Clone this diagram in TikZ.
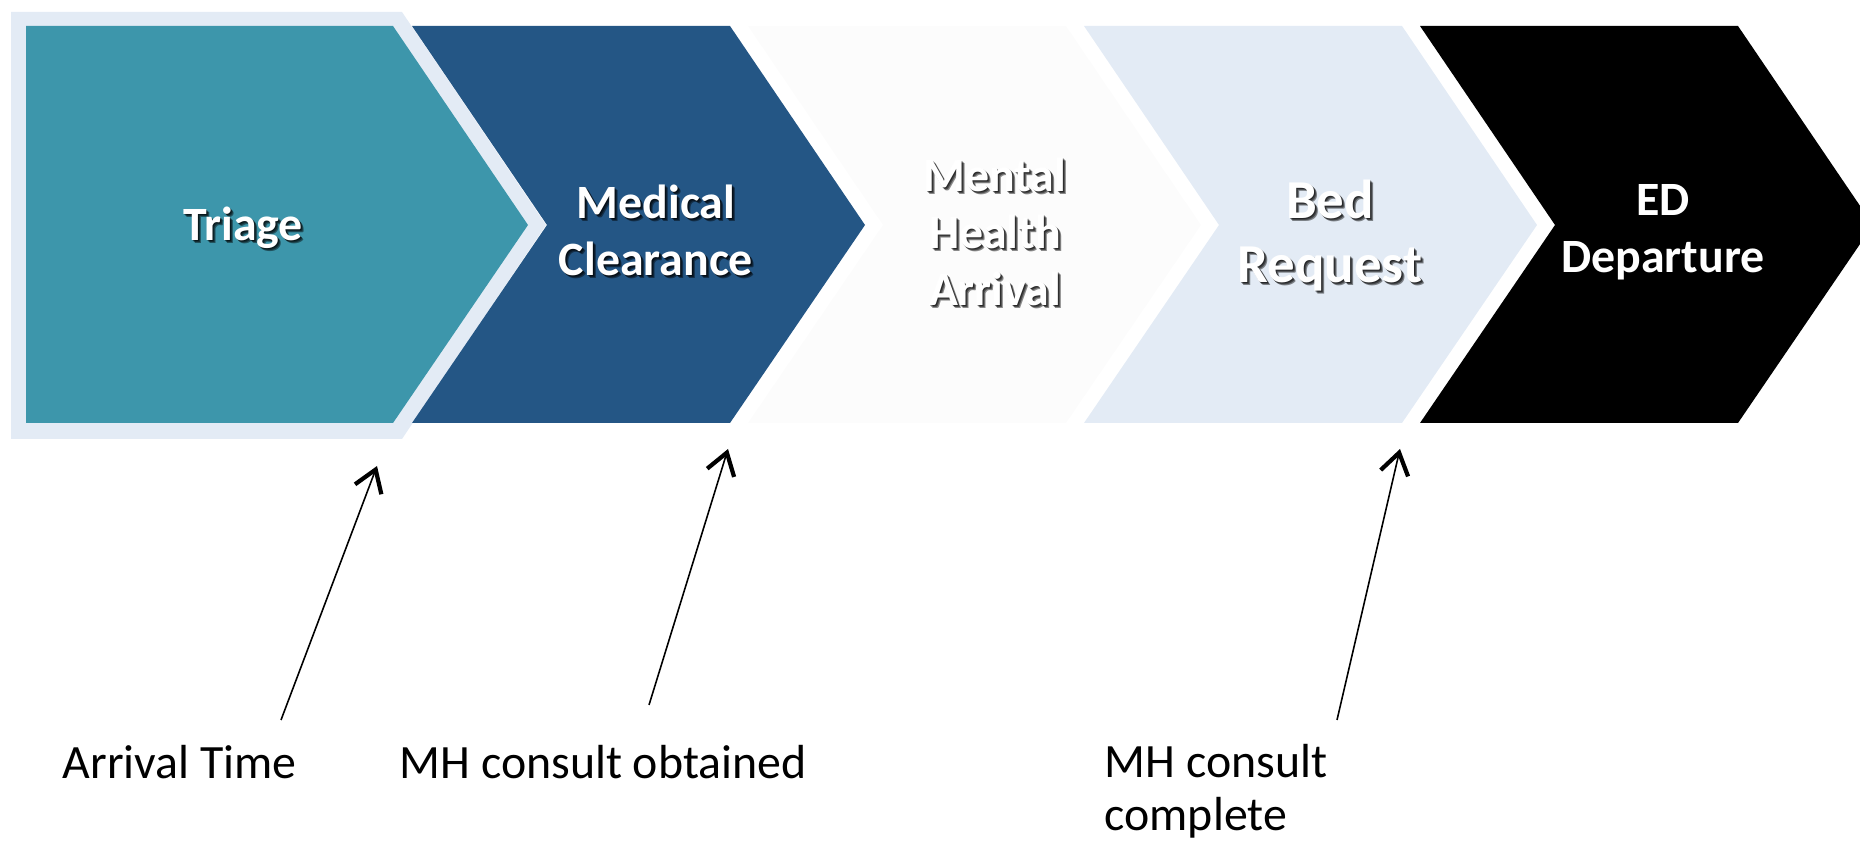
\documentclass[tikz,border=0pt]{standalone}
\usepackage{fontspec}
\setmainfont{Carlito}
\usetikzlibrary{arrows.meta,positioning,calc}

\definecolor{triageteal}{RGB}{61,150,171}
\definecolor{clearblue}{RGB}{36,86,133}
\definecolor{mhwhite}{RGB}{252,252,252}
\definecolor{paleblue}{RGB}{227,235,245}

% white step text with a soft dark shadow
\newcommand{\shadedlabel}[4][]{%
	\foreach \d in {1,2,3}
		\node[StepTextStyle, #1, text=black, opacity=0.45] at ($(#3)+(\d,\d)$) {#4};
	\node[StepTextStyle, #1] (#2) at (#3) {#4};
}

\begin{document}
\begin{tikzpicture}[x=0.01cm, y=-0.01cm]
	\tikzset{StepTextStyle/.style = {
			text=white,
			font=\fontsize{13.6}{16.2}\selectfont\bfseries,
			align=center,
			inner sep=0pt
	}}
	\tikzset{NoteStyle/.style = {
			font=\fontsize{13.6}{14.8}\selectfont,
			align=left,
			inner sep=0pt
	}}
	\tikzset{PointerStyle/.style = {
			line width=0.45pt,
			-{Straight Barb[length=6pt,width=8pt,line width=1.2pt]}
	}}
	\clip (0,0) rectangle (1860,843);

	% triage step and its pale frame
	\fill[paleblue] (11,12) -- (402,12) -- (546,225) -- (402,439) -- (11,439) -- cycle;
	\fill[triageteal] (26,26) -- (393,26) -- (528,225) -- (393,423) -- (26,423) -- cycle;
	% the other steps
	\foreach \l/\c in {412/clearblue, 748/mhwhite, 1084/paleblue, 1420/black}
		\fill[\c] (\l,26) -- (\l+318,26) -- (\l+453,225) -- (\l+318,423) -- (\l,423) -- (\l+135,225) -- cycle;

	\shadedlabel{triage}{243,228}{Triage}
	\shadedlabel{clearance}{656,230}{Medical\\Clearance}
	\shadedlabel{mharrival}{995,232}{Mental\\Health\\Arrival}
	\shadedlabel[font=\fontsize{15.6}{18.2}\selectfont\bfseries]{bedrequest}{1330,236}{Bed\\Request}
	\shadedlabel{departure}{1663,232}{ED\\Departure}

	\node[NoteStyle, anchor=base west] (arrival) at (62,778) {Arrival Time};
	\node[NoteStyle, anchor=base west] (obtained) at (399,778) {MH consult obtained};
	\node[NoteStyle, anchor=base west] (complete) at (1104,830) {MH consult\\complete};

	\coordinate (arrivalfoot) at (281,720);
	\coordinate (arrivaltip) at (377,466);
	\coordinate (obtainedfoot) at (649,705);
	\coordinate (obtainedtip) at (728,449);
	\coordinate (completefoot) at (1337,720);
	\coordinate (completetip) at (1400,449);

	\draw[PointerStyle] (arrivalfoot) -- (arrivaltip);
	\draw[PointerStyle] (obtainedfoot) -- (obtainedtip);
	\draw[PointerStyle] (completefoot) -- (completetip);
\end{tikzpicture}
\end{document}
